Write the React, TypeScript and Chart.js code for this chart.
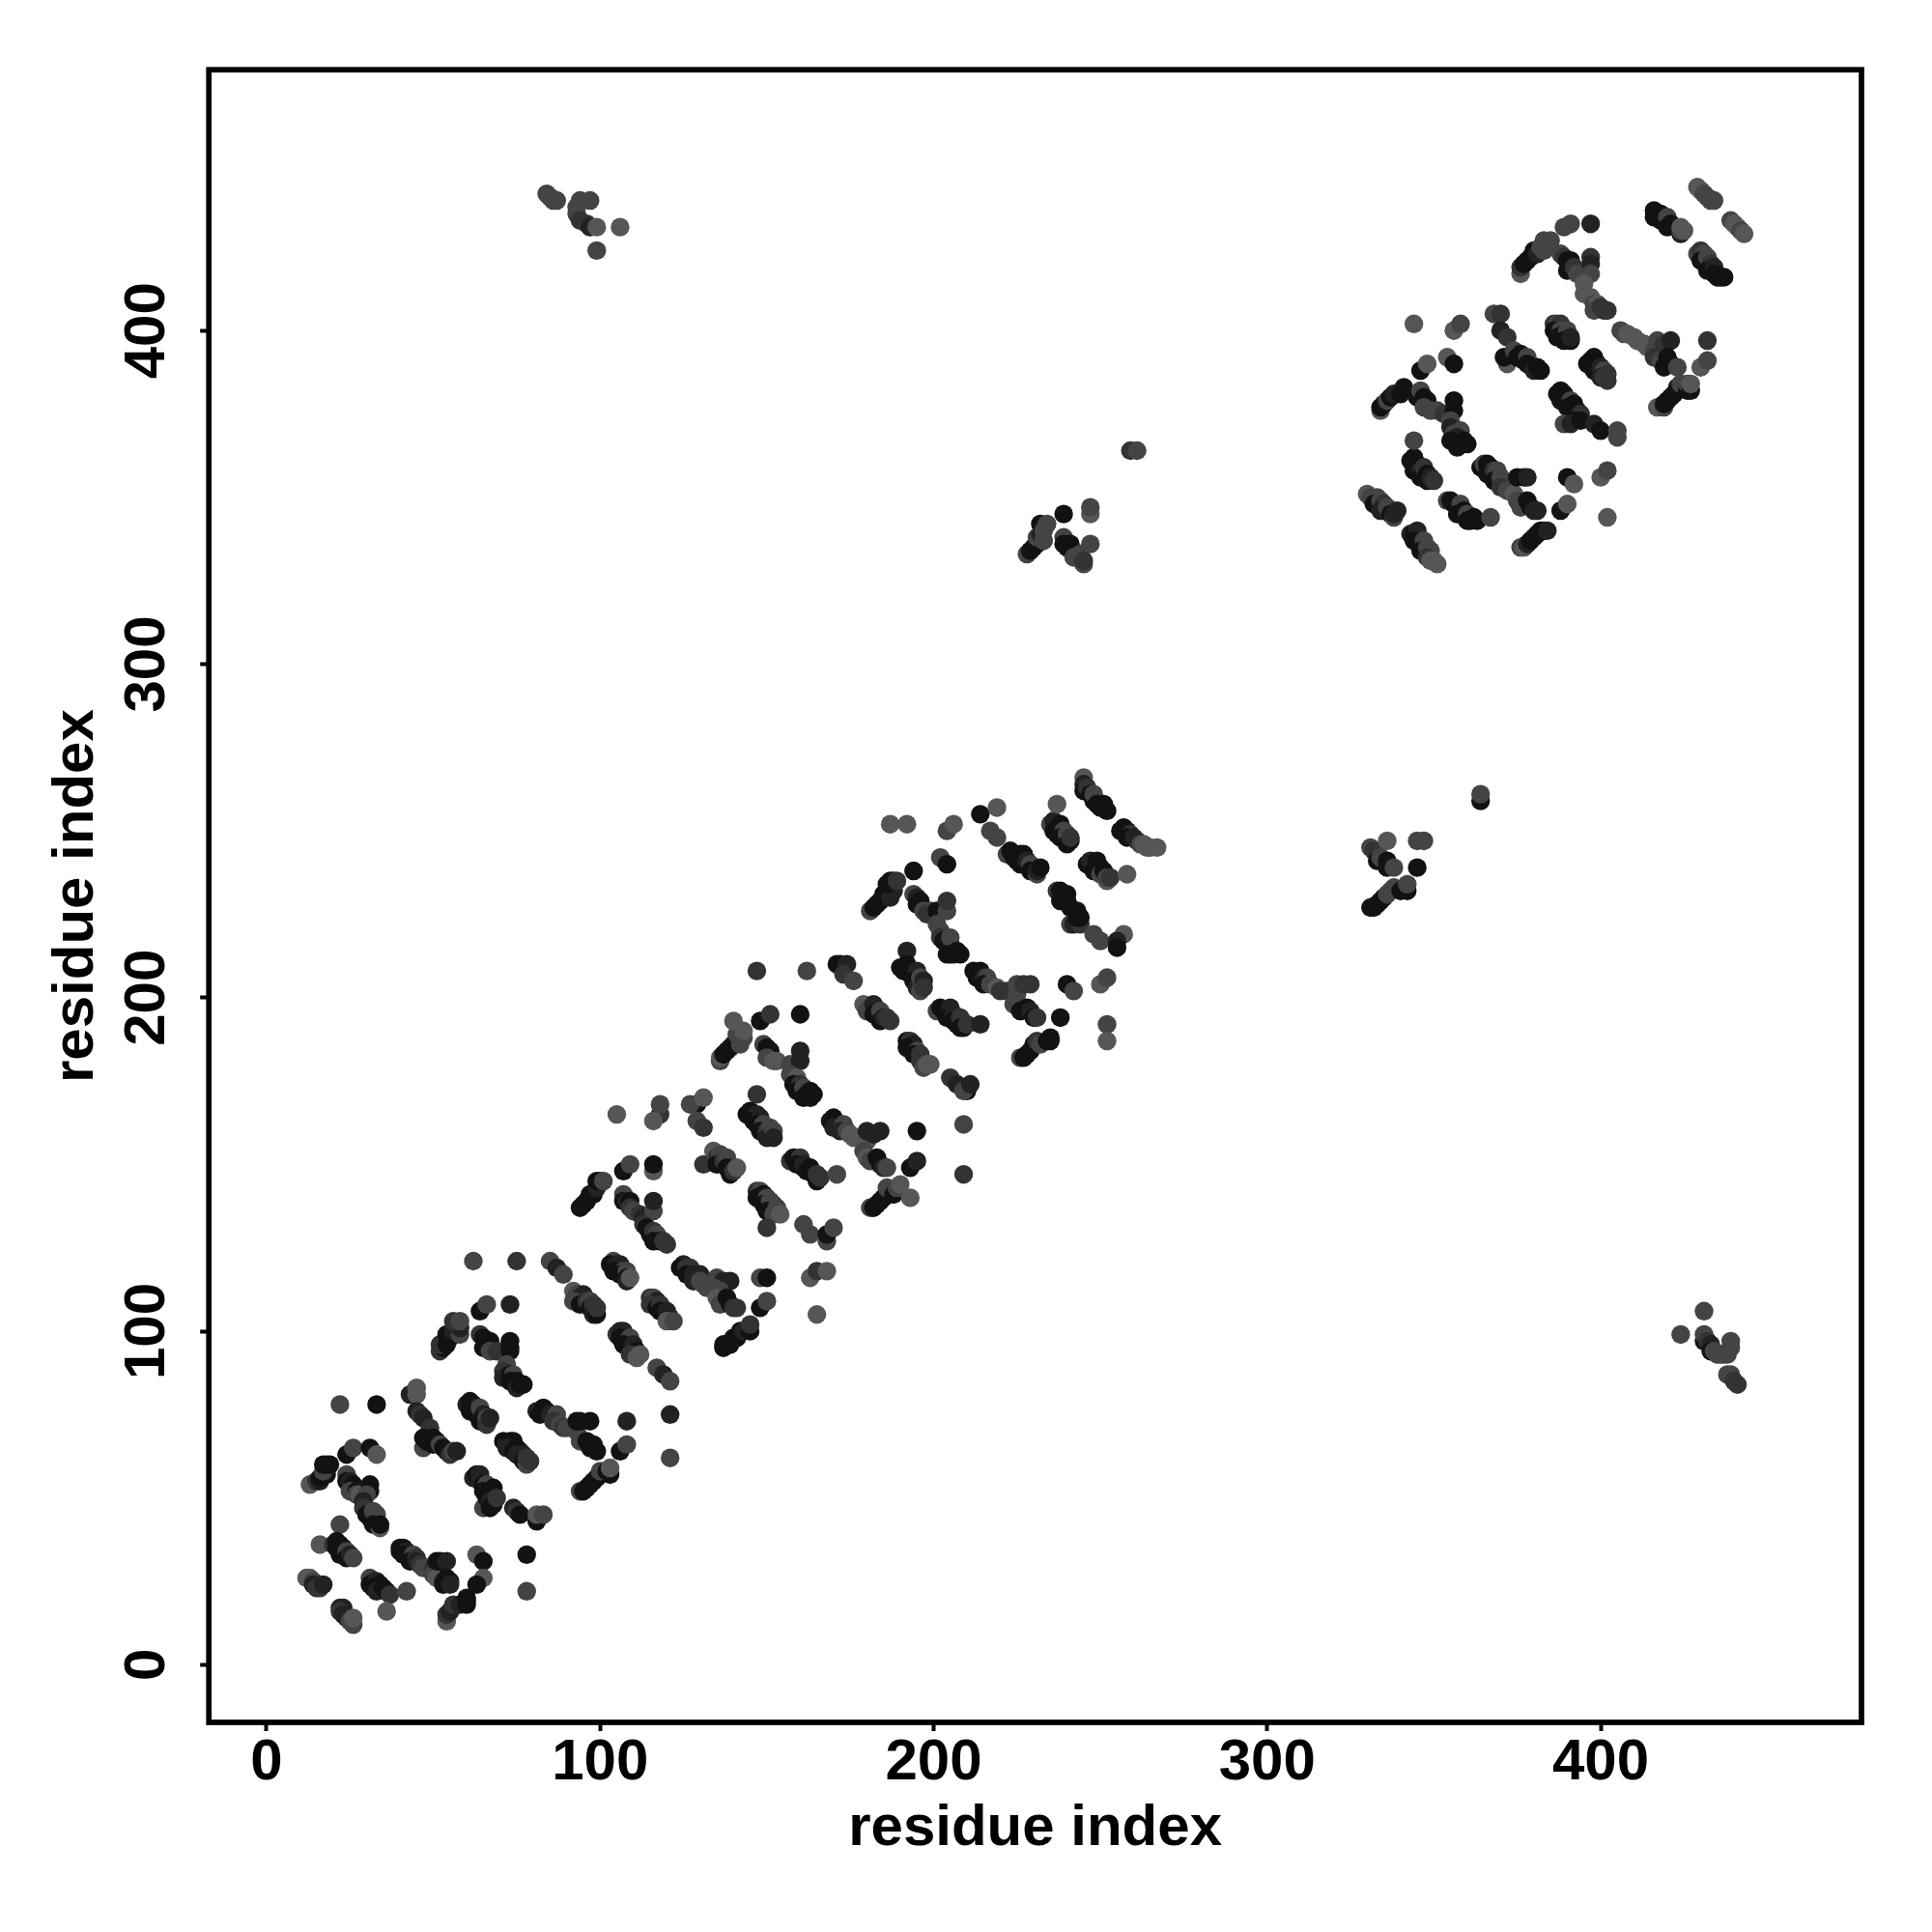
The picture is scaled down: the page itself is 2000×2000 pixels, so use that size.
import React, { useEffect, useRef } from "react";
import { Chart, registerables } from "chart.js";

Chart.register(...registerables);

const K = 0, D = 1, M = 2, L = 3, G = 4;
const axisTitle = "residue index";
const tickValues = [0, 100, 200, 300, 400];
const levelColors = ["#121212", "#222222", "#333333", "#444444", "#565656"];

const strandLow: number[][] = [
  [12,26,G],[13,26,G],[14,25,L],[14,24,D],[15,23,M],[16,23,M],[17,24,D],
  [22,17,D],[23,17,D],[22,16,M],[23,15,D],[24,14,D],[26,12,L],[25,13,L],[26,14,G],
  [31,26,L],[32,25,M],[31,24,K],[33,25,D],[32,23,K],[34,24,K],[33,22,D],[35,23,K],[36,22,K],[37,21,M],
  [42,22,L],[36,16,G],
  [40,35,K],[41,35,K],[40,34,K],[42,34,D],[41,33,K],[43,33,K],[44,33,L],[43,31,K],[45,32,M],[45,31,D],[46,30,M],[47,29,L],
  [50,29,M],[50,27,L],[51,26,G],[53,25,D],[51,31,K],[52,31,K],[54,31,D],[54,26,K],[53,24,K],[55,25,K],[55,24,D],
  [63,33,G],[65,31,K],[65,26,G],[63,24,K],[78,33,K],[78,22,L],
  [54,13,G],[54,15,M],[55,16,D],[56,18,M],[58,18,D],[60,18,K],[60,20,K],[60,19,K],
  [13,54,G],[15,55,M],[16,55,D],[16,56,K],[18,57,K],[17,58,L],[18,60,K],[19,60,K],[17,60,K],
  [24,63,K],[26,65,L],[31,65,K],[33,63,G],[22,78,L],[33,78,K],[22,42,L],[16,36,G],
  [43,81,D],[45,81,G],[45,83,G],
  [24,57,L],[24,55,K],[25,55,D],[26,54,K],[25,52,L],[27,52,K],[27,51,L],[28,51,G],[31,54,K],[31,52,K],[30,51,L],[29,49,D],[29,47,M],[30,45,K],[31,44,K],[32,46,L],[33,45,L],[32,42,K],[34,41,G],[34,42,K],
  [20,36,M],[21,37,K],[22,36,K],[21,35,K],[23,35,K],[22,33,K],[24,34,L],[24,32,K],[25,33,D],[26,32,L],
];

const strandLowMid: number[][] = [
  [45,76,D],[46,75,M],[47,74,D],[49,71,M],[47,65,L],[47,68,K],[48,67,K],[50,68,K],[50,66,K],[51,67,K],[52,66,L],[53,65,K],[54,64,K],[55,63,M],[56,64,L],[57,64,D],
  [60,78,D],[61,79,K],[62,78,K],[63,77,D],[61,76,K],[63,75,K],[64,77,L],[65,75,D],[64,73,K],[66,74,L],[66,72,M],[67,74,D],
  [71,67,K],[72,66,D],[73,67,K],[74,67,K],[72,65,D],[74,64,K],[75,65,K],[76,64,K],[75,63,D],[77,63,D],[77,61,K],[78,60,L],[78,62,M],[79,61,M],
  [62,56,D],[63,57,K],[64,57,D],[64,55,D],[65,54,K],[66,54,L],[65,52,K],[67,52,K],[68,53,K],[65,47,L],[66,50,K],[67,49,D],[67,47,K],[68,48,K],[69,50,M],
  [74,47,D],[75,46,M],[76,45,K],[81,43,K],[81,45,G],[83,45,L],
  [94,52,L],[95,52,K],[96,53,K],[97,54,K],[98,55,K],[99,56,K],[100,58,L],[102,58,K],[103,57,K],[103,59,G],
  [81,76,D],[83,77,K],[84,76,K],[82,75,K],[85,75,D],[87,75,L],[86,73,M],[88,72,L],[89,71,M],[90,71,L],[92,71,L],[93,70,L],[93,73,K],[94,73,K],[97,73,K],[94,67,L],[96,67,K],[97,65,K],[98,66,K],[99,64,K],
  [108,73,D],[106,64,K],[108,66,L],[121,75,D],[121,62,L],
  [52,94,M],[53,95,K],[52,96,M],[54,96,K],[55,98,K],[54,99,K],[56,100,D],[58,99,L],[57,102,M],[58,101,D],[56,103,M],[58,103,L],
  [64,106,K],[66,108,L],[73,108,D],[62,121,L],[75,121,M],
  [64,99,M],[65,98,K],[66,97,K],[67,97,K],[65,95,K],[67,94,L],[69,94,M],[71,94,M],[73,97,K],[73,94,K],[73,95,K],[72,90,L],[71,88,M],[71,86,D],[73,87,K],[74,87,L],[73,85,K],[75,85,K],[75,83,D],[76,84,K],[77,84,K],
  [85,121,L],[87,119,D],[89,117,L],
];

const strandMid: number[][] = [
  [92,112,G],[93,111,L],[94,110,K],[95,111,D],[92,109,L],[94,108,K],[96,109,M],[97,109,L],[97,107,K],[98,108,M],[98,105,D],[99,105,K],[99,107,M],
  [105,99,M],[106,100,D],[107,100,D],[106,98,K],[108,97,D],[109,98,L],[107,96,K],[109,95,K],[110,96,D],[111,94,K],[109,93,M],[111,92,G],[112,93,G],
  [117,89,L],[119,87,D],[121,85,L],
  [115,110,M],[116,110,L],[117,109,D],[115,108,M],[117,107,K],[118,108,M],[118,106,K],[120,105,K],[120,106,D],[121,104,D],[120,103,G],[122,103,L],
  [104,121,L],[103,120,K],[105,120,D],[105,119,D],[106,120,D],[104,118,K],[107,118,L],[106,117,K],[108,118,L],[108,116,K],[108,115,D],[109,116,G],
  [125,120,D],[124,119,K],[126,119,M],[127,119,M],[126,117,K],[128,117,D],[128,115,D],[130,117,D],[130,115,L],[131,114,L],[132,113,L],
  [135,116,L],[137,115,D],[139,115,D],[134,113,L],[136,112,L],[135,110,G],[136,108,L],[138,110,K],[139,108,K],[140,107,M],[141,107,M],
  [148,116,L],[150,116,K],[148,107,K],[150,109,L],[163,116,G],[165,118,M],[168,118,G],[165,105,G],
  [137,95,K],[137,96,K],[138,96,K],[139,96,K],[140,98,K],[141,98,K],[142,100,K],[143,100,D],[145,100,K],[145,102,M],
  [161,132,L],[163,129,L],[168,127,L],[168,129,K],[170,131,L],
  [147,142,M],[148,142,L],[147,140,K],[149,141,K],[150,140,L],[149,138,K],[151,139,L],[152,138,L],[150,136,K],[153,137,L],[152,135,L],[154,135,G],[150,131,M],
  [131,150,M],[134,154,G],[135,152,M],[136,153,L],[135,150,K],[137,151,M],[138,152,L],[138,149,K],[139,147,K],[140,148,M],[141,149,G],
  [105,165,G],[118,165,M],[118,168,L],[116,163,G],[129,168,K],[127,168,L],[131,170,G],[129,163,L],[131,161,M],
  [147,171,M],
  [144,165,K],[145,166,K],[147,165,D],[146,163,K],[148,164,D],[147,162,K],[149,162,L],[148,160,K],[150,160,M],[151,161,L],[150,158,D],[152,160,L],[152,158,D],
  [157,151,M],[158,152,K],[160,152,M],[159,150,K],[161,149,K],[161,150,D],[162,148,K],[163,149,K],[164,147,K],[165,145,K],[165,147,M],[166,146,M],[171,147,L],
  [169,163,K],[170,164,K],[171,162,K],[170,161,D],[173,162,L],[172,160,D],[174,160,L],[175,159,G],[176,158,G],[178,158,G],[180,157,G],[180,160,D],[182,159,D],[184,160,D],
  [179,154,L],[180,152,G],[181,151,L],[183,152,K],[184,150,K],[185,149,D],[186,149,L],
  [181,137,L],[182,137,K],[183,138,K],[184,139,K],[185,140,K],[186,141,K],[186,143,L],[188,141,K],[189,143,L],[190,144,G],[193,140,G],
  [195,160,K],[209,162,L],[193,149,K],[195,151,D],[209,147,M],
  [147,208,M],[162,208,L],[171,210,K],[172,210,K],[174,210,D],[173,207,M],[176,205,L],
  [94,137,K],[95,138,K],[96,139,K],[97,141,K],[98,141,K],[99,143,D],[99,145,K],[100,145,K],[101,145,L],
  [107,148,K],[109,150,L],[116,148,G],[116,150,K],
  [107,141,L],[107,139,K],[108,139,D],[109,139,K],[109,137,M],[110,136,L],[112,135,M],[113,134,D],[116,136,L],[116,139,D],[113,132,M],[114,131,K],[115,129,K],[116,130,M],[117,129,L],[116,127,K],[118,127,K],[119,127,M],[120,126,M],
  [136,181,L],[136,182,G],[137,183,K],[138,184,K],[139,185,K],[140,186,K],[142,186,L],[141,189,L],[143,188,L],[143,190,G],[140,193,G],
  [148,193,K],[151,195,M],[160,195,K],
  [149,186,L],[150,185,K],[151,184,K],[150,182,L],[152,181,G],[153,181,G],[157,180,L],[160,181,D],[160,184,D],[157,177,L],[159,176,G],[158,174,K],[160,174,M],[159,172,K],[161,173,L],[161,170,K],[162,171,K],[163,170,K],[163,172,K],[164,171,K],
];

const strandUpperMid: number[][] = [
  [179,198,G],[181,197,L],[180,196,L],[182,198,D],[182,195,K],[184,196,L],[184,193,K],[185,194,D],[186,194,M],[187,193,M],
  [192,187,K],[193,187,M],[194,186,D],[192,185,K],[195,184,L],[194,183,K],[196,183,M],[196,181,M],[197,179,L],[198,180,G],[199,180,G],
  [205,176,M],[207,174,D],[210,172,K],[209,172,L],[211,174,D],
  [192,214,D],[190,209,K],[192,210,K],[191,208,K],[193,207,K],[195,208,D],[194,205,K],[195,203,D],[196,206,L],[197,205,D],[196,202,L],[197,203,M],
  [201,196,L],[202,197,K],[203,196,K],[205,197,D],[204,194,K],[206,195,D],[206,193,K],[207,192,K],[208,194,M],[208,191,K],[209,191,K],[210,192,M],[214,192,D],
  [240,204,K],[242,202,L],[250,204,G],[252,206,L],[252,192,L],[252,187,G],[238,194,K],
  [212,208,K],[213,206,K],[214,208,K],[215,206,D],[216,206,L],[215,204,K],[217,204,L],[219,203,G],[220,202,M],[222,202,M],[225,201,L],[225,204,L],[227,204,M],[229,204,M],[224,198,L],[226,196,K],[228,197,K],[229,196,D],[230,194,K],[231,194,M],
  [226,182,L],[227,182,K],[228,183,K],[229,184,K],[230,186,K],[231,187,M],[232,186,L],[234,187,K],[235,188,K],[235,187,K],
  [187,252,G],[192,252,G],[204,250,L],[206,252,G],[194,238,K],[202,242,L],[204,240,K],[214,255,K],[219,257,G],[217,250,L],[219,248,L],
  [181,226,L],[182,227,K],[183,228,K],[184,229,K],[185,231,K],[186,232,K],[188,232,D],[187,230,D],[186,234,K],[187,235,K],[188,235,K],[189,235,M],
  [194,231,L],[195,230,D],[195,228,K],[196,229,K],[197,226,L],[199,226,L],[198,225,M],[201,226,K],[204,226,L],[204,229,M],[201,222,L],[202,220,L],[202,218,M],[203,217,K],[205,216,K],[205,218,L],[204,213,K],[205,213,K],[206,213,K],[207,214,K],[208,213,K],
  [222,243,L],[223,244,K],[224,242,K],[226,243,K],[225,241,K],[227,243,K],[226,240,K],[228,241,D],[229,240,L],[229,238,K],[231,237,L],[231,238,D],[232,239,K],
  [235,252,L],[236,253,D],[237,258,G],[236,250,K],[238,252,K],[237,249,K],[239,250,L],[238,248,K],[240,249,L],[240,246,K],[241,247,K],[241,248,M],
  [245,266,G],[245,264,D],[245,262,K],[246,263,M],[247,261,K],[248,259,K],[248,261,L],[249,258,K],[250,257,K],[251,258,K],[252,256,K],
  [256,250,K],[257,251,K],[258,250,K],[259,249,M],[258,248,K],[260,248,D],[261,247,D],[262,246,L],[263,246,G],[264,245,G],[265,245,G],[267,245,G],
  [246,240,K],[247,241,D],[249,241,K],[248,238,K],[250,239,K],[250,237,L],[251,238,K],[252,235,G],[252,236,L],[253,236,M],[258,237,G],
  [237,232,M],[238,232,K],[239,231,K],[240,231,K],[238,229,K],[240,229,K],[241,227,K],[242,226,K],[243,226,K],[241,222,L],[242,222,D],[244,222,M],[243,224,K],[244,224,K],
  [248,219,L],[250,217,L],[257,219,G],[255,217,D],[255,215,K],
];

const strandHigh: number[][] = [
  [330,351,G],[331,350,L],[333,350,L],[332,348,K],[334,349,L],[335,348,M],[334,346,D],[336,347,L],[337,345,K],[338,344,L],[338,345,D],[339,346,D],
  [343,339,D],[344,339,K],[345,340,D],[344,337,K],[346,336,K],[347,337,L],[346,334,K],[348,335,L],[349,334,L],[348,332,M],[349,331,G],[350,331,G],[351,330,G],
  [354,349,L],[355,349,K],[356,348,K],[357,347,K],[358,348,L],[357,345,K],[359,346,K],[360,345,L],[360,343,K],[362,344,K],[361,343,K],[363,343,K],[367,344,L],
  [364,359,K],[365,360,L],[366,360,K],[367,359,K],[366,357,K],[368,358,M],[369,358,L],[368,355,K],[370,356,L],[371,354,L],[370,353,M],
  [372,352,L],[374,351,G],[375,356,K],[377,356,K],[378,356,D],[375,349,L],[376,347,L],[378,349,K],[379,347,K],[380,346,D],[381,346,D],
  [388,346,K],[390,348,G],[402,344,G],[390,356,K],[392,354,G],[400,356,G],[402,358,L],
  [376,335,L],[377,335,G],[378,336,D],[379,337,K],[380,338,K],[381,339,K],[382,340,K],[383,340,K],[384,340,D],
  [343,361,K],[344,362,K],[345,360,K],[344,358,K],[346,358,D],[346,356,K],[347,359,M],[348,357,K],[348,355,K],[349,356,D],[350,355,M],[344,367,L],
  [334,376,G],[334,377,K],[335,378,K],[336,379,L],[337,380,K],[338,381,D],[340,381,K],[341,382,K],[341,383,K],
  [346,388,K],[348,390,G],[354,392,G],[356,390,K],[344,402,G],[356,400,G],[358,402,L],
  [345,380,K],[346,382,L],[347,380,K],[348,379,K],[347,377,L],[349,376,L],[351,376,L],[353,375,M],[356,379,K],[356,376,K],[355,373,L],[355,371,D],[358,370,L],[356,369,L],[357,368,D],[355,367,K],[357,365,K],[358,366,K],[359,367,K],[360,366,K],
  [368,405,L],[370,405,M],[370,400,D],[372,398,M],
  [372,390,G],[371,392,K],[374,394,L],[375,392,K],[376,393,K],[377,391,K],[378,392,L],[378,390,K],[380,388,D],[381,389,K],[382,388,K],
  [376,417,G],[376,419,M],[377,420,K],[378,421,K],[379,422,K],[380,424,K],[381,423,D],[382,425,L],[383,424,L],[383,427,L],[385,427,L],[384,425,L],
  [389,431,L],[391,432,L],[397,432,D],
  [388,423,L],[389,422,M],[390,421,K],[391,421,K],[390,418,K],[392,419,M],[393,417,L],[395,417,L],[397,422,M],[397,420,D],[397,417,L],[395,414,G],[395,411,G],[397,410,G],[398,408,L],[399,408,G],[398,406,L],[400,407,M],[401,406,M],[402,406,M],
  [386,402,M],[387,402,L],[388,402,M],[386,400,K],[388,400,L],[387,398,K],[389,399,K],[390,400,L],[389,397,K],[391,397,K],[391,398,D],
  [396,390,K],[397,391,K],[398,392,K],[399,390,K],[398,388,K],[400,389,D],[401,388,L],[400,386,D],[402,387,M],[402,385,M],[401,386,M],
  [387,381,K],[388,382,K],[389,381,K],[388,379,K],[391,379,L],[390,377,K],[392,378,K],[393,376,K],[394,375,M],[392,373,K],[389,372,L],[391,372,D],[394,373,K],
  [398,372,D],[400,370,K],[405,368,L],[405,370,L],
  [406,400,L],[407,399,L],[408,399,G],[410,398,G],[411,397,G],[413,396,G],[414,395,G],[416,394,L],[417,397,L],[419,396,M],[421,397,D],[416,392,M],[418,391,L],[420,392,K],[419,389,K],[421,390,K],[423,389,L],
  [432,397,M],[430,389,G],[432,391,L],
  [417,377,G],[419,377,L],[419,378,K],[420,379,K],[421,380,K],[422,381,K],[423,383,K],[424,384,L],[426,382,K],[426,384,L],[427,382,K],[427,384,G],
  [416,436,K],[416,434,K],[418,435,K],[418,433,K],[420,434,L],[420,431,K],[421,432,K],[423,431,K],[424,429,D],[424,430,L],[424,431,G],[425,430,G],
  [429,443,G],[430,442,G],[431,441,L],[432,440,L],[433,439,L],[434,439,L],
  [439,433,L],[440,432,G],[441,431,G],[442,430,L],[443,429,G],
  [429,423,L],[430,424,M],[431,423,L],[430,421,K],[432,422,L],[433,420,M],[432,418,K],[434,419,D],[434,417,K],[435,416,K],[436,416,K],[437,416,K],
];

const isolatedPatches: number[][] = [
  [84,441,L],[85,440,L],[86,439,L],[87,439,L],[94,439,L],[97,439,L],[93,437,L],[93,435,L],[94,433,M],[96,432,M],[97,431,D],[99,431,G],[106,431,G],[99,424,L],
  [259,364,M],[261,364,L],[247,345,G],[247,347,L],[239,345,K],
  [228,333,L],[229,334,K],[230,335,K],[231,336,K],[231,338,L],[232,339,D],[233,337,L],[232,342,K],[233,340,L],[234,342,L],
  [239,338,L],[239,336,K],[240,335,K],[241,336,K],[242,333,K],[242,332,L],[244,333,L],[245,330,L],[245,331,M],[247,336,L],
  [364,259,K],[364,261,L],
  [331,245,L],[332,244,M],[333,243,M],[333,241,K],[336,247,G],[334,242,L],[336,241,K],[336,239,K],[338,239,L],[345,239,K],[345,247,L],[347,247,L],
  [331,227,K],[332,227,K],[333,228,K],[334,229,K],[335,230,K],[336,231,L],[337,232,L],[338,233,L],[340,232,K],[342,232,K],[342,234,L],
  [431,106,L],[424,99,L],[431,97,K],[431,99,L],[432,97,M],[433,96,D],[433,94,K],[434,94,L],[435,93,L],[436,93,L],[437,93,L],[438,93,L],[439,97,L],[439,95,L],[438,87,L],[439,87,L],[440,85,M],[441,84,M],
];

const contacts = [...strandLow, ...strandLowMid, ...strandMid, ...strandUpperMid, ...strandHigh, ...isolatedPatches];

const fontFamily = "'Liberation Sans', Arial, sans-serif";

const framePlugin = {
  id: "frame",
  afterDraw(chart: any) {
    const { ctx, chartArea: a } = chart;
    ctx.save();
    ctx.strokeStyle = "#000";
    ctx.lineWidth = 5.7;
    ctx.lineJoin = "miter";
    ctx.strokeRect(a.left, a.top, a.right - a.left, a.bottom - a.top);
    ctx.restore();
  },
};

export default function App() {
  const ref = useRef<HTMLCanvasElement | null>(null);
  useEffect(() => {
    const axisCommon = (fit: (s: any) => void) => ({
      type: "linear" as const,
      min: -17.3,
      max: 478.2,
      afterFit: fit,
      afterBuildTicks: (s: any) => {
        s.ticks = tickValues.map((value) => ({ value }));
      },
      border: { display: false },
      grid: {
        display: true,
        drawOnChartArea: false,
        drawTicks: true,
        tickLength: 9,
        tickWidth: 4,
        tickColor: "#000",
      },
    });
    const chart = new Chart(ref.current!, {
      type: "scatter",
      data: {
        datasets: [
          {
            data: contacts.map((c) => ({ x: c[0], y: c[1] })),
            pointBackgroundColor: contacts.map((c) => levelColors[c[2]]),
            pointBorderWidth: 0,
            pointRadius: 9.7,
          },
        ],
      },
      options: {
        responsive: false,
        animation: false,
        devicePixelRatio: 1,
        layout: { padding: { left: 0, top: 72.2, right: 73, bottom: 0 } },
        plugins: { legend: { display: false }, tooltip: { enabled: false } },
        scales: {
          x: {
            ...axisCommon((s: any) => {
              s.height = 217;
            }),
            position: "bottom",
            ticks: {
              color: "#000",
              padding: -3,
              maxRotation: 0,
              autoSkip: false,
              font: { family: fontFamily, weight: "bold", size: 60 },
            },
            title: {
              display: true,
              text: axisTitle,
              color: "#000",
              padding: { top: 0, bottom: 71 },
              font: { family: fontFamily, weight: "bold", size: 60 },
            },
          },
          y: {
            ...axisCommon((s: any) => {
              s.width = 216.2;
            }),
            position: "left",
            ticks: {
              color: "#000",
              padding: 4,
              minRotation: 90,
              maxRotation: 90,
              crossAlign: "center",
              autoSkip: false,
              font: { family: fontFamily, weight: "bold", size: 60 },
            },
            title: {
              display: true,
              text: axisTitle,
              color: "#000",
              padding: { top: 43, bottom: 0 },
              font: { family: fontFamily, weight: "bold", size: 60 },
            },
          },
        },
      },
      plugins: [framePlugin],
    } as any);
    return () => chart.destroy();
  }, []);
  return (
    <canvas
      ref={ref}
      width={2000}
      height={2000}
      style={{ position: "absolute", left: 0, top: 0, display: "block", width: 2000, height: 2000, background: "#fff" }}
    />
  );
}
